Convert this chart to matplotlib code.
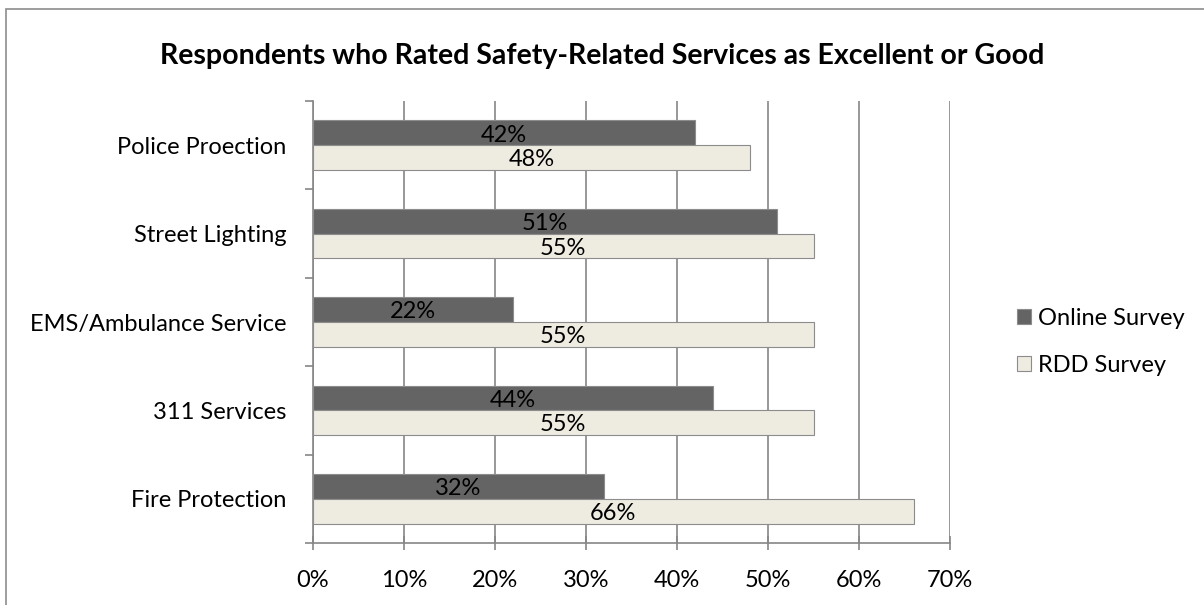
import matplotlib
matplotlib.use("Agg")
import matplotlib.pyplot as plt
import numpy as np
from matplotlib.patches import Rectangle

categories = ["Police Proection", "Street Lighting", "EMS/Ambulance Service", "311 Services", "Fire Protection"]
online = [42, 51, 22, 44, 32]
rdd = [48, 55, 55, 55, 66]
series_names = ["Online Survey", "RDD Survey"]
xticks = [0, 10, 20, 30, 40, 50, 60, 70]

plt.rcParams['font.family'] = ['Lato', 'DejaVu Sans']
FS = 17

fig = plt.figure(figsize=(12.04, 6.05), dpi=100)
W, H = 1204, 605
# axes in pixel coords: left 313, right 950, top 101, bottom 543
ax = fig.add_axes([313 / W, 1 - 543 / H, (950 - 313) / W, (543 - 101) / H])

# outer chart border
fig.patches.append(Rectangle((6 / W, -0.01), 1.5, 1 - 9 / H + 0.01, transform=fig.transFigure,
                             fill=False, edgecolor='#8c8c8c', linewidth=1.2))

n = len(categories)
y = np.arange(n)[::-1]  # first category at top
h = 0.28
dark = '#646464'
light = '#eeece1'
edge = '#8c8c8c'

b1 = ax.barh(y + h / 2, online, height=h, color=dark, edgecolor=edge, linewidth=0.8, zorder=3, label=series_names[0])
b2 = ax.barh(y - h / 2, rdd, height=h, color=light, edgecolor=edge, linewidth=0.8, zorder=3, label=series_names[1])

for yy, v in zip(y, online):
    ax.text(v / 2, yy + h / 2 - 0.025, f"{v}%", ha='center', va='center', fontsize=FS, color='black', zorder=4)
for yy, v in zip(y, rdd):
    ax.text(v / 2, yy - h / 2 - 0.025, f"{v}%", ha='center', va='center', fontsize=FS, color='black', zorder=4)

ax.set_xlim(0, 70)
ax.set_ylim(-0.5, n - 0.5)
ax.set_xticks(xticks)
ax.set_xticklabels([f"{t}%" for t in xticks], fontsize=FS)
ax.set_yticks(y)
ax.set_yticklabels(categories, fontsize=FS)
ax.set_yticks(np.arange(n + 1) - 0.5, minor=True)

ax.xaxis.grid(True, color='#868686', linewidth=1.2, zorder=0)
ax.set_axisbelow(True)
for s in ['top', 'right']:
    ax.spines[s].set_visible(False)
ax.spines['left'].set_color('#868686')
ax.spines['bottom'].set_color('#868686')
ax.spines['left'].set_linewidth(1.2)
ax.spines['bottom'].set_linewidth(1.2)
ax.tick_params(axis='y', which='major', length=0, pad=19)
ax.tick_params(axis='y', which='minor', length=6, color='#868686', width=1.2)
ax.tick_params(axis='x', which='major', direction='inout', length=10, color='#868686', width=1.2, pad=14.5)

fig.text(602 / W, 1 - 56 / H, "Respondents who Rated Safety-Related Services as Excellent or Good",
         ha='center', va='center', fontsize=20.5, fontweight='bold')

leg = fig.legend(handles=[b1, b2], labels=series_names, loc='center left',
                 bbox_to_anchor=(1005 / W, 1 - 342 / H), frameon=False, fontsize=FS,
                 handlelength=0.6, handleheight=0.6, handletextpad=0.3, labelspacing=1.1,
                 borderpad=0)

fig.savefig("out.png", dpi=100)
